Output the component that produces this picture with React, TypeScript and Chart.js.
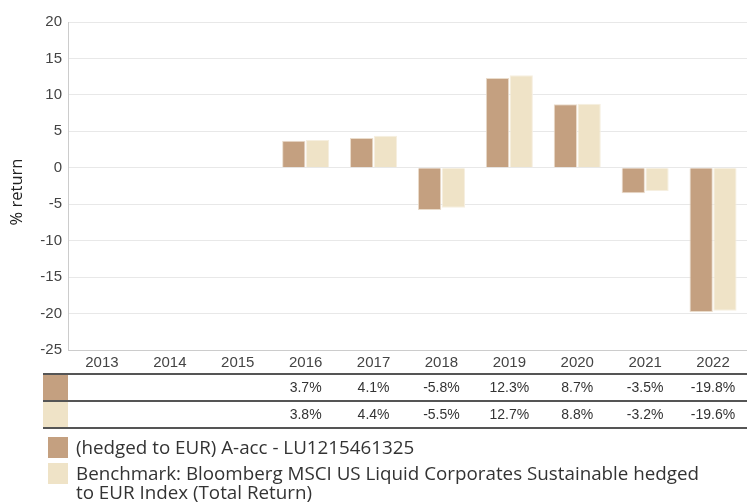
import React, { useEffect, useRef } from "react";
import { Chart, registerables } from "chart.js";

Chart.register(...registerables);

const years = ["2013", "2014", "2015", "2016", "2017", "2018", "2019", "2020", "2021", "2022"];
const fundValues: (number | null)[] = [null, null, null, 3.7, 4.1, -5.8, 12.3, 8.7, -3.5, -19.8];
const benchValues: (number | null)[] = [null, null, null, 3.8, 4.4, -5.5, 12.7, 8.8, -3.2, -19.6];
const fundLabel = "(hedged to EUR) A-acc - LU1215461325";
const benchLabelLines = [
  "Benchmark: Bloomberg MSCI US Liquid Corporates Sustainable hedged",
  "to EUR Index (Total Return)",
];
const yTitle = "% return";

const FUND_COLOR = "#c4a080";
const BENCH_COLOR = "#efe3c7";

const tablePlugin = {
  id: "tableLegend",
  afterDraw(chart: any) {
    const ctx = chart.ctx;
    const x = chart.scales.x;
    ctx.save();
    // y axis title
    ctx.save();
    ctx.translate(17, 192);
    ctx.rotate(-Math.PI / 2);
    ctx.fillStyle = "#222";
    ctx.font = "16.5px 'Open Sans', 'Noto Sans', sans-serif";
    ctx.textAlign = "center";
    ctx.textBaseline = "middle";
    ctx.fillText(yTitle, 0, 0);
    ctx.restore();
    // swatches in table
    ctx.fillStyle = FUND_COLOR;
    ctx.fillRect(43, 375, 25, 25);
    ctx.fillStyle = BENCH_COLOR;
    ctx.fillRect(43, 402, 25, 25);
    // lines
    ctx.strokeStyle = "#555";
    ctx.lineWidth = 2;
    [374, 401, 428].forEach((y) => {
      ctx.beginPath();
      ctx.moveTo(43, y);
      ctx.lineTo(747, y);
      ctx.stroke();
    });
    // values
    ctx.fillStyle = "#333";
    ctx.font = "14px 'Liberation Sans', Arial, sans-serif";
    ctx.textAlign = "center";
    ctx.textBaseline = "middle";
    years.forEach((_, i) => {
      const cx = x.getPixelForValue(i);
      const f = fundValues[i];
      const b = benchValues[i];
      if (f !== null) ctx.fillText(f.toFixed(1) + "%", cx, 388);
      if (b !== null) ctx.fillText(b.toFixed(1) + "%", cx, 415);
    });
    // legend
    ctx.fillStyle = FUND_COLOR;
    ctx.fillRect(48, 437, 20, 21);
    ctx.fillStyle = BENCH_COLOR;
    ctx.fillRect(48, 463, 20, 21);
    ctx.fillStyle = "#333";
    ctx.textAlign = "left";
    ctx.textBaseline = "alphabetic";
    ctx.font = "18.8px 'Open Sans', 'Noto Sans', sans-serif";
    ctx.fillText(fundLabel, 76, 454);
    ctx.fillText(benchLabelLines[0], 76, 480);
    ctx.fillText(benchLabelLines[1], 76, 499);
    ctx.restore();
  },
};

export default function App() {
  const ref = useRef<HTMLCanvasElement>(null);
  useEffect(() => {
    document.body.style.margin = "0";
    const chart = new Chart(ref.current!, {
      type: "bar",
      data: {
        labels: years,
        datasets: [
          {
            label: fundLabel,
            data: fundValues,
            backgroundColor: FUND_COLOR,
            borderColor: "#eadccb",
            borderWidth: 1,
            barPercentage: 0.98,
            categoryPercentage: 0.7,
          },
          {
            label: benchLabelLines.join(" "),
            data: benchValues,
            backgroundColor: BENCH_COLOR,
            borderColor: "#f6efe0",
            borderWidth: 1,
            barPercentage: 0.98,
            categoryPercentage: 0.7,
          },
        ],
      },
      options: {
        animation: false,
        responsive: false,
        maintainAspectRatio: false,
        layout: { padding: { top: 22, right: 0, bottom: 134, left: 0 } },
        plugins: {
          legend: { display: false },
          tooltip: { enabled: false },
        },
        scales: {
          x: {
            grid: { display: false, drawTicks: false },
            border: { color: "#ccc" },
            ticks: {
              color: "#444",
              font: { family: "'Liberation Sans', Arial, sans-serif", size: 15 },
              padding: 4,
              maxRotation: 0,
            },
            afterFit(scale: any) {
              scale.height = 20;
            },
          },
          y: {
            min: -25,
            max: 20,
            ticks: {
              stepSize: 5,
              color: "#444",
              font: { family: "'Liberation Sans', Arial, sans-serif", size: 15 },
              padding: 6,
            },
            grid: { color: "#e8e8e8", drawTicks: false },
            border: { color: "#ccc" },
            title: { display: false, text: yTitle },
            afterFit(scale: any) {
              scale.width = 68;
            },
          },
        },
      },
      plugins: [tablePlugin],
    });
    return () => chart.destroy();
  }, []);
  return (
    <div style={{ position: "fixed", left: 0, top: 0, width: 747, height: 504 }}>
      <canvas ref={ref} width={747} height={504} style={{ width: 747, height: 504 }} />
    </div>
  );
}
